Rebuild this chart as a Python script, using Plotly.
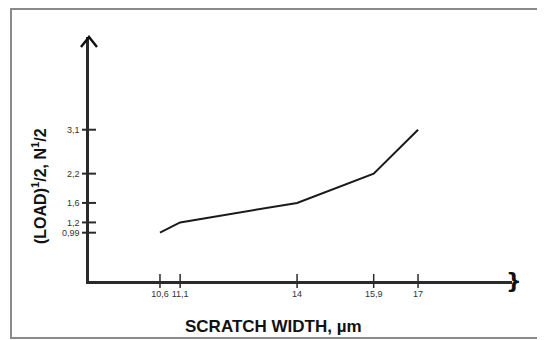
import plotly.graph_objects as go

# Data
scratch_width = [10.6, 11.1, 14, 15.9, 17]
load_sqrt = [0.99, 1.2, 1.6, 2.2, 3.1]
x_tick_vals = [10.6, 11.1, 14, 15.9, 17]
x_tick_text = ["10,6", "11,1", "14", "15,9", "17"]
y_tick_vals = [0.99, 1.2, 1.6, 2.2, 3.1]
y_tick_text = ["0,99", "1,2", "1,6", "2,2", "3,1"]

X_MIN, X_MAX = 8.84, 19.33
Y_MIN, Y_MAX = 0.0, 5.0
AX = "#2a2a2a"

# page body has an 8px margin: figure pixel = screen pixel - 8
OFF = 8
W, H = 545 - OFF, 340 - OFF
L = 89 - OFF
T = 37 - OFF
R = W - (512 - OFF)
B = H - (281 - OFF)
PW, PH = W - L - R, H - T - B


def px_x(p):
    return (p - OFF - L) / PW


def px_y(p):
    return (H - B - (p - OFF)) / PH


fig = go.Figure()
fig.add_trace(go.Scatter(x=scratch_width, y=load_sqrt, mode="lines",
                         line=dict(color="#1a1a1a", width=2), showlegend=False))
# cross tick marks
fig.add_trace(go.Scatter(x=x_tick_vals, y=[Y_MIN] * len(x_tick_vals), mode="markers",
                         marker=dict(symbol="line-ns", size=10, line=dict(color=AX, width=1.5)),
                         cliponaxis=False, showlegend=False, hoverinfo="skip"))
fig.add_trace(go.Scatter(x=[X_MIN] * len(y_tick_vals), y=y_tick_vals, mode="markers",
                         marker=dict(symbol="line-ew", size=10, line=dict(color=AX, width=2)),
                         cliponaxis=False, showlegend=False, hoverinfo="skip"))

shapes = [
    # arrow chevron at top of y axis
    dict(type="path", xref="paper", yref="paper",
         path=f"M {-8 / PW},{1 - 10 / PH} L 0,1 L {8 / PW},{1 - 10 / PH}",
         line=dict(color="#111111", width=2.5)),
    # outer frame
    dict(type="rect", xref="paper", yref="paper",
         x0=px_x(11), x1=px_x(541), y0=px_y(338), y1=px_y(9),
         line=dict(color="#8a8a8a", width=2)),
]

tickfont = dict(family="Liberation Sans Narrow, Arial Narrow, sans-serif", size=9, color="#333")
fig.update_layout(
    width=W, height=H,
    margin=dict(l=L, r=R, t=T, b=B),
    paper_bgcolor="white", plot_bgcolor="white",
    shapes=shapes,
    xaxis=dict(range=[X_MIN, X_MAX], showgrid=False, zeroline=False, automargin=False,
               showline=True, linecolor=AX, linewidth=2.5,
               tickvals=x_tick_vals, ticktext=x_tick_text, ticks="", tickfont=tickfont,
               ticklabelstandoff=2),
    yaxis=dict(range=[Y_MIN, Y_MAX], showgrid=False, zeroline=False, automargin=False,
               showline=True, linecolor=AX, linewidth=2.5,
               tickvals=y_tick_vals, ticktext=y_tick_text, ticks="", tickfont=tickfont,
               ticklabelstandoff=5),
    annotations=[
        dict(x=X_MAX, y=Y_MIN, xref="x", yref="y", text="<b>}</b>", showarrow=False,
             font=dict(family="DejaVu Sans", size=22, color="#111"), xanchor="center",
             yanchor="middle", xshift=2, yshift=1),
        dict(x=px_x(273), y=px_y(326), xref="paper", yref="paper",
             text="<b>SCRATCH WIDTH, µm</b>", showarrow=False,
             font=dict(family="Liberation Sans Narrow, Arial Narrow, sans-serif", size=17, color="#111"),
             xanchor="center", yanchor="middle"),
        dict(x=px_x(39), y=px_y(186), xref="paper", yref="paper",
             text="<b>(LOAD)<sup>1</sup>/2, N<sup>1</sup>/2</b>", showarrow=False, textangle=-90,
             font=dict(family="Liberation Sans Narrow, Arial Narrow, sans-serif", size=16, color="#111"),
             xanchor="center", yanchor="middle"),
    ],
)

fig.write_html("out.html")
